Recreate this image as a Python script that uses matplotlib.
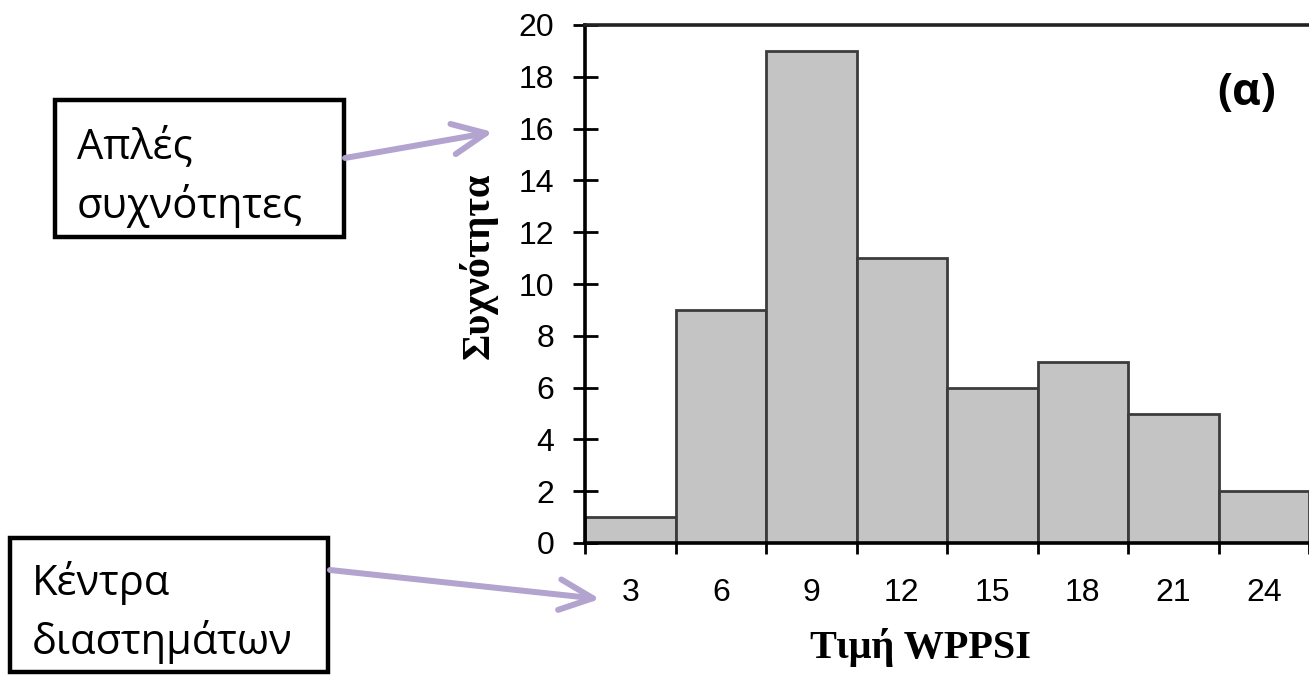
import matplotlib.pyplot as plt
from matplotlib.patches import Rectangle

# histogram data
centres = [3, 6, 9, 12, 15, 18, 21, 24]
freq = [1, 9, 19, 11, 6, 7, 5, 2]
width = 3
edges = [c - width / 2 for c in centres] + [centres[-1] + width / 2]
yticks = list(range(0, 21, 2))

W, H = 1309, 675
fig = plt.figure(figsize=(W / 100, H / 100), dpi=100)

# axes placed so that y=0 sits at pixel 543 and y=20 at pixel 25
ax = fig.add_axes([585 / W, 1 - 543 / H, 1 - 585 / W, (543 - 25) / H])

ax.bar(centres, freq, width=width, color="#c4c4c4", edgecolor="#3c3c3c",
       linewidth=2, zorder=2)

ax.set_xlim(1.5, 25.25)
ax.set_ylim(0, 20)

for s in ["left", "bottom", "top"]:
    ax.spines[s].set_linewidth(2.6)
    ax.spines[s].set_color("black")
ax.spines["top"].set_color("#222222")
ax.spines["right"].set_visible(False)

tick_font = {"family": "Liberation Sans", "size": 23}

ax.set_yticks(yticks)
ax.set_yticklabels([str(v) for v in yticks], fontdict=tick_font)
ax.tick_params(axis="y", direction="inout", length=18, width=2, pad=13)

# long ticks at the class edges, small inner ticks + labels at the centres
ax.set_xticks(edges)
ax.set_xticklabels([])
ax.tick_params(axis="x", which="major", direction="inout", length=16, width=2)
ax.set_xticks(centres, minor=True)
ax.set_xticklabels([str(c) for c in centres], minor=True, fontdict=tick_font)
ax.tick_params(axis="x", which="minor", direction="in", length=6, width=2,
               pad=25)

ax.set_xlabel("Τιμή WPPSI", family="Liberation Serif", weight="bold",
              size=29, va="baseline", ha="center")
ax.xaxis.set_label_coords(0.464, -0.222)
ax.set_ylabel("Συχνότητα", family="Liberation Serif", weight="bold", size=29,
              va="center", ha="center")
ax.yaxis.set_label_coords(-0.148, 0.535)

fig.text(1247 / W, 1 - 94 / H, "(α)", family="Open Sans", weight="bold",
         size=32, ha="center", va="center")

# callout boxes on the left
def box(x0, y0, x1, y1):
    fig.patches.append(Rectangle((x0 / W, 1 - y1 / H), (x1 - x0) / W,
                                 (y1 - y0) / H, transform=fig.transFigure,
                                 fill=False, edgecolor="black", linewidth=3.2))

box(55, 100, 344, 237)
box(10, 538, 328, 672)

note_font = {"family": "Open Sans", "size": 30}
fig.text(77 / W, 1 - 158 / H, "Απλές", va="baseline", **note_font)
fig.text(77 / W, 1 - 218 / H, "συχνότητες", va="baseline", **note_font)
fig.text(32 / W, 1 - 595 / H, "Κέντρα", va="baseline", **note_font)
fig.text(32 / W, 1 - 654 / H, "διαστημάτων", va="baseline", **note_font)

arrow = dict(arrowstyle="->,head_length=2.4,head_width=1.1", color="#b2a3cf",
             linewidth=4.3, shrinkA=0, shrinkB=0, capstyle="round",
             joinstyle="round")
fig.add_artist(plt.Annotation("", xy=(493 / W, 1 - 132 / H),
                              xytext=(345 / W, 1 - 158 / H),
                              xycoords="figure fraction",
                              textcoords="figure fraction", arrowprops=arrow))
fig.add_artist(plt.Annotation("", xy=(600 / W, 1 - 599 / H),
                              xytext=(330 / W, 1 - 570 / H),
                              xycoords="figure fraction",
                              textcoords="figure fraction", arrowprops=arrow))

fig.savefig("out.png", dpi=100)
